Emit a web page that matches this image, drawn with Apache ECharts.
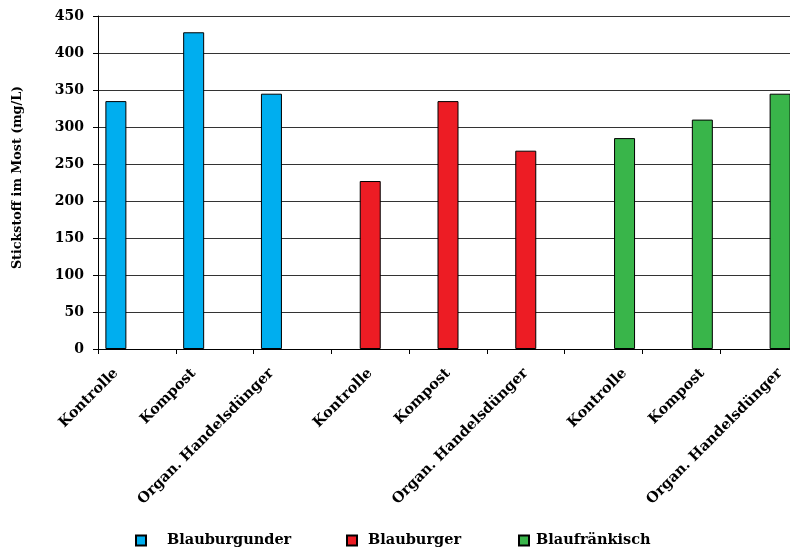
<!DOCTYPE html>
<html>
<head>
<meta charset="utf-8">
<script src="https://cdn.jsdelivr.net/npm/echarts@6/dist/echarts.min.js"></script>
<style>html,body{margin:0;padding:0;background:#fff;overflow:hidden}#c{width:798px;height:551px}</style>
</head>
<body>
<div id="c"></div>
<script>
const categories = ["Kontrolle", "Kompost", "Organ. Handelsdünger", "Kontrolle", "Kompost", "Organ. Handelsdünger", "Kontrolle", "Kompost", "Organ. Handelsdünger"];
const seriesNames = ["Blauburgunder", "Blauburger", "Blaufränkisch"];
const blauburgunder = [335, 428, 345, null, null, null, null, null, null];
const blauburger = [null, null, null, 227, 335, 268, null, null, null];
const blaufraenkisch = [null, null, null, null, null, null, 285, 310, 345];
const yTicks = { min: 0, max: 450, interval: 50 };
const yAxisTitle = "Stickstoff im Most (mg/L)";

const colors = ["#00AEEF", "#ED1C24", "#39B54A"];
const FONT = "DejaVu Serif";
const chart = echarts.init(document.getElementById('c'));
const seriesData = [blauburgunder, blauburger, blaufraenkisch];
const legendPos = [ {left: 135, pad: 16}, {left: 346, pad: 6}, {left: 518, pad: 2} ];

chart.setOption({
  animation: false,
  backgroundColor: '#fff',
  grid: { left: 98, top: 16, bottom: 202, right: 0, containLabel: false },
  legend: seriesNames.map((n, i) => ({
    data: [n], left: legendPos[i].left, top: 533, padding: 0, icon: 'rect', itemWidth: 10, itemHeight: 10,
    selectedMode: false,
    textStyle: { fontFamily: FONT, fontWeight: 'bold', fontSize: 14.5, color: '#000', padding: [0, 0, 0, legendPos[i].pad] }
  })),
  xAxis: {
    type: 'category', data: categories,
    axisLine: { lineStyle: { color: '#000', width: 1 } },
    axisTick: { show: true, length: 5, interval: 0, lineStyle: { color: '#000' } },
    axisLabel: { show: false },
    splitLine: { show: false }
  },
  yAxis: {
    type: 'value', min: yTicks.min, max: yTicks.max, interval: yTicks.interval,
    name: yAxisTitle, nameLocation: 'middle', nameGap: 74, nameRotate: 90,
    nameTextStyle: { fontFamily: FONT, fontWeight: 'bold', fontSize: 12.7, color: '#000', padding: [0, 0, 0, 10] },
    axisLine: { show: true, lineStyle: { color: '#000', width: 1 } },
    axisTick: { show: true, length: 5, lineStyle: { color: '#000' } },
    axisLabel: { margin: 14, fontFamily: FONT, fontWeight: 'bold', fontSize: 14, color: '#000' },
    splitLine: { show: true, lineStyle: { color: '#333', width: 1 } }
  },
  series: seriesNames.map((n, i) => ({
    name: n, type: 'bar', data: seriesData[i].map(v => v === null ? '-' : v),
    barGap: '0%', barCategoryGap: '19%',
    itemStyle: { color: colors[i], borderColor: '#000', borderWidth: 1 },
    label: {
      show: true, position: 'bottom', distance: 22, rotate: 45, align: 'right', verticalAlign: 'middle',
      formatter: '{b}', fontFamily: FONT, fontWeight: 'bold', fontSize: 14.5, color: '#000'
    }
  }))
});
</script>
</body>
</html>
